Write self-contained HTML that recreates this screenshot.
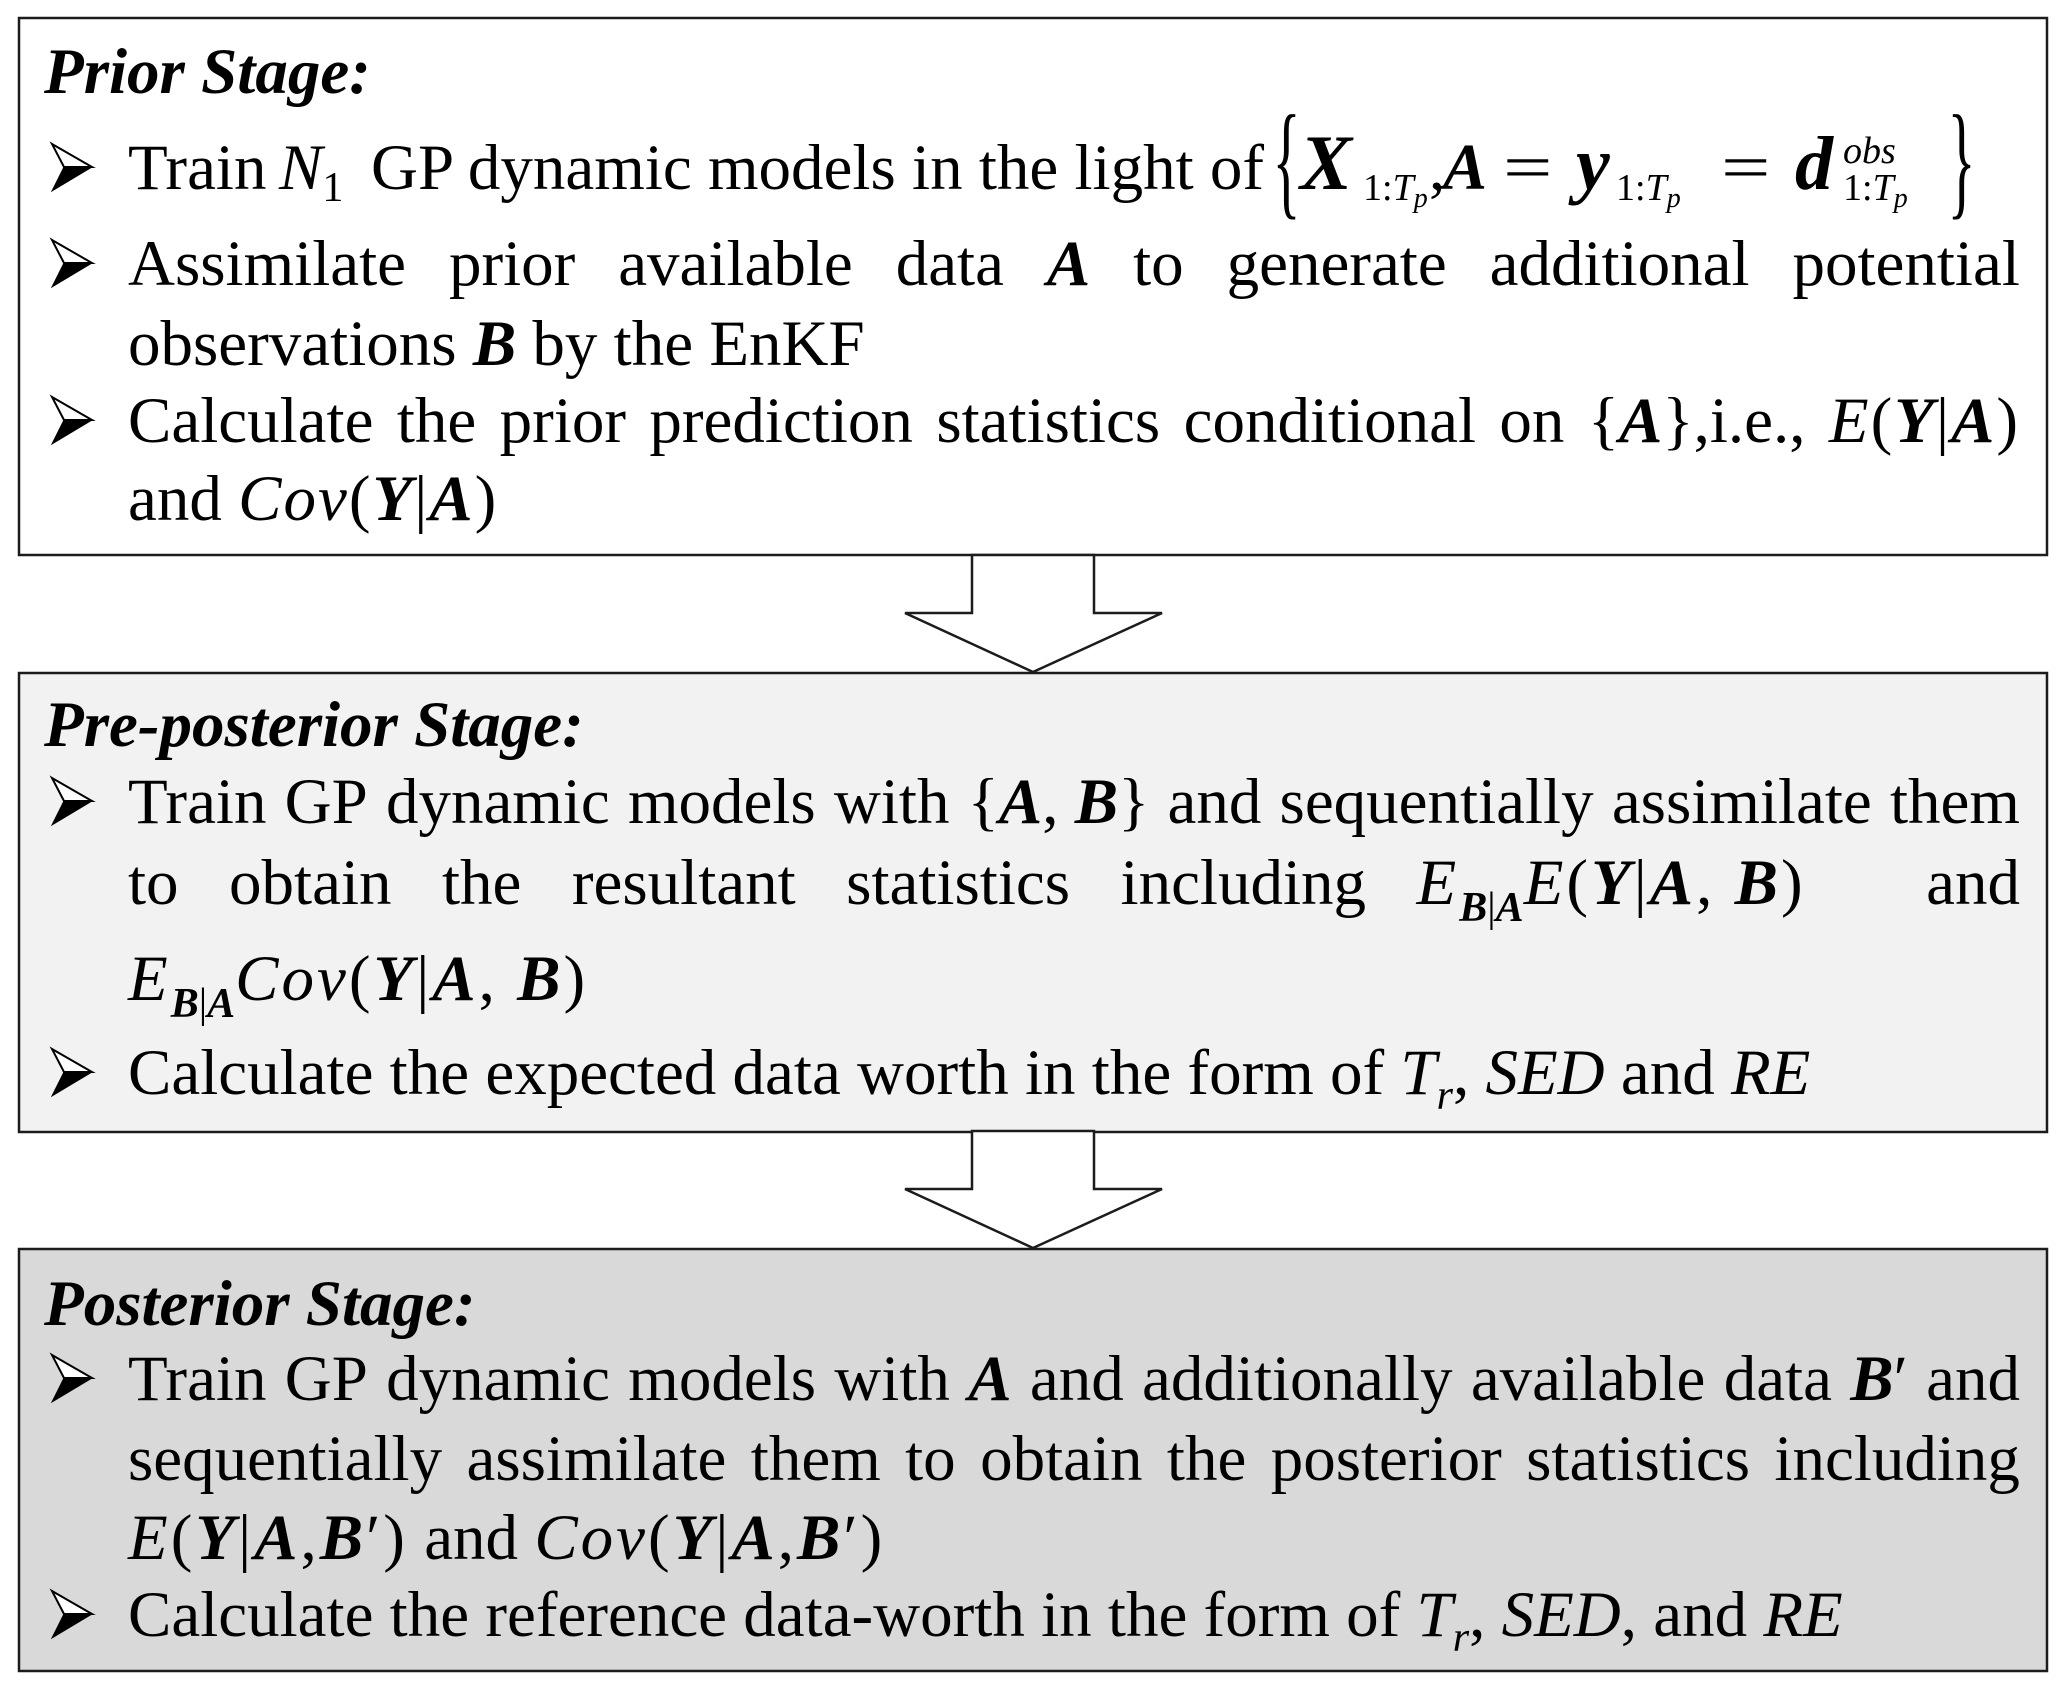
<!DOCTYPE html>
<html>
<head>
<meta charset="utf-8">
<style>
html,body{margin:0;padding:0;}
body{width:2067px;height:1690px;position:relative;background:#fff;overflow:hidden;
  font-family:"Liberation Serif","Times New Roman",serif;font-size:65px;color:#000;}
svg.bg{position:absolute;left:0;top:0;}
.l{position:absolute;left:128px;line-height:65px;white-space:nowrap;}
.a{position:absolute;line-height:65px;white-space:nowrap;}
.j{width:1892px;display:flex;justify-content:space-between;align-items:flex-start;}
.j>span{display:block;white-space:nowrap;}
.h{position:absolute;left:44px;font-weight:bold;font-style:italic;line-height:65px;white-space:nowrap;}
i{font-style:italic;}
b{font-weight:bold;font-style:italic;}
.m{letter-spacing:2px;}
.m3{letter-spacing:3px;}
.sb{font-size:42px;position:relative;top:15px;line-height:0;letter-spacing:0;}
.s1{font-size:38px;position:relative;top:11px;line-height:0;}
.sp{font-size:38px;position:relative;top:-26px;line-height:0;}
.ss{font-size:28px;position:relative;top:7px;line-height:0;}
.br{transform:scale(0.9,1.95);transform-origin:50% 50%;}
.eq{transform:scaleX(1.35);transform-origin:0 50%;}
.big{line-height:0;}
</style>
</head>
<body>
<svg class="bg" width="2067" height="1690" viewBox="0 0 2067 1690" xmlns="http://www.w3.org/2000/svg">
  <rect x="19" y="18" width="2028" height="537" fill="#ffffff" stroke="#1c1c1c" stroke-width="2.5"/>
  <rect x="19" y="673" width="2028" height="459" fill="#f2f2f2" stroke="#1c1c1c" stroke-width="2.5"/>
  <rect x="19" y="1249" width="2028" height="422" fill="#d9d9d9" stroke="#1c1c1c" stroke-width="2.5"/>
  <polygon points="972,555 1094,555 1094,613 1162,613 1033,672 905,613 972,613" fill="#ffffff" stroke="#1c1c1c" stroke-width="2.5" stroke-linejoin="miter"/>
  <polygon points="972,1131 1094,1131 1094,1189 1162,1189 1033,1248 905,1189 972,1189" fill="#ffffff" stroke="#1c1c1c" stroke-width="2.5" stroke-linejoin="miter"/>
  <g stroke-linejoin="miter">
    <polygon points="52,144 92,167 64,167" fill="#fff" stroke="#000" stroke-width="2"/>
    <polygon points="64,167 92,167 52,191" fill="#000" stroke="#000" stroke-width="1"/>

    <polygon points="52,240 92,263 64,263" fill="#fff" stroke="#000" stroke-width="2"/>
    <polygon points="64,263 92,263 52,287" fill="#000" stroke="#000" stroke-width="1"/>

    <polygon points="52,397 92,420 64,420" fill="#fff" stroke="#000" stroke-width="2"/>
    <polygon points="64,420 92,420 52,444" fill="#000" stroke="#000" stroke-width="1"/>

    <polygon points="52,778 92,801 64,801" fill="#fff" stroke="#000" stroke-width="2"/>
    <polygon points="64,801 92,801 52,825" fill="#000" stroke="#000" stroke-width="1"/>

    <polygon points="52,1049 92,1072 64,1072" fill="#fff" stroke="#000" stroke-width="2"/>
    <polygon points="64,1072 92,1072 52,1096" fill="#000" stroke="#000" stroke-width="1"/>

    <polygon points="52,1355 92,1378 64,1378" fill="#fff" stroke="#000" stroke-width="2"/>
    <polygon points="64,1378 92,1378 52,1402" fill="#000" stroke="#000" stroke-width="1"/>

    <polygon points="52,1591 92,1614 64,1614" fill="#fff" stroke="#000" stroke-width="2"/>
    <polygon points="64,1614 92,1614 52,1638" fill="#000" stroke="#000" stroke-width="1"/>
  </g>
</svg>

<!-- ============ Prior Stage ============ -->
<div class="h" style="top:39.6px;">Prior Stage:</div>

<!-- line 1 -->
<div class="a" style="left:128px;top:135.6px;">Train</div>
<div class="a" style="left:279px;top:135.6px;"><i>N</i><span class="sb" style="top:12px;">1</span></div>
<div class="a" style="left:371px;top:135.6px;">GP dynamic models in the light of</div>
<div class="a br" style="left:1271px;top:129.6px;">{</div>
<div class="a" style="left:1300px;top:135.6px;"><b class="big" style="font-size:78px;">X</b></div>
<div class="a" style="left:1363px;top:135.6px;"><span class="s1">1:<i>T</i><span class="ss"><i>p</i></span></span></div>
<div class="a" style="left:1429px;top:135.6px;">,</div>
<div class="a" style="left:1443px;top:135.6px;"><b class="big" style="font-size:66px;">A</b></div>
<div class="a eq" style="left:1503px;top:135.6px;">=</div>
<div class="a" style="left:1576px;top:135.6px;"><b class="big" style="font-size:76px;">y</b></div>
<div class="a" style="left:1616px;top:135.6px;"><span class="s1">1:<i>T</i><span class="ss"><i>p</i></span></span></div>
<div class="a eq" style="left:1721px;top:135.6px;">=</div>
<div class="a" style="left:1795px;top:135.6px;"><b class="big" style="font-size:76px;">d</b></div>
<div class="a" style="left:1843px;top:135.6px;"><span class="sp"><i>obs</i></span></div>
<div class="a" style="left:1843px;top:135.6px;"><span class="s1">1:<i>T</i><span class="ss"><i>p</i></span></span></div>
<div class="a br" style="left:1946px;top:129.6px;">}</div>

<!-- line 2 (justified) -->
<div class="l j" style="top:231.6px;">
  <span>Assimilate</span><span>prior</span><span>available</span><span>data</span><span><b>A</b></span><span>to</span><span>generate</span><span>additional</span><span>potential</span>
</div>
<!-- line 3 -->
<div class="l" style="top:311.6px;">observations <b>B</b> by the EnKF</div>
<!-- line 4 (justified) -->
<div class="l j" style="top:388.6px;">
  <span>Calculate</span><span>the</span><span>prior</span><span>prediction</span><span>statistics</span><span>conditional</span><span>on</span><span>{<b>A</b>},i.e.,</span><span class="m"><i>E</i>(<b>Y</b>|<b>A</b>)</span>
</div>
<!-- line 5 -->
<div class="l" style="top:466.6px;">and <span class="m"><i>Cov</i>(<b>Y</b>|<b>A</b>)</span></div>

<!-- ============ Pre-posterior Stage ============ -->
<div class="h" style="top:692.6px;">Pre-posterior Stage:</div>

<div class="l j" style="top:769.6px;">
  <span>Train</span><span>GP</span><span>dynamic</span><span>models</span><span>with</span><span>{<b>A</b>, <b>B</b>}</span><span>and</span><span>sequentially</span><span>assimilate</span><span>them</span>
</div>
<div class="l j" style="top:850.6px;">
  <span>to</span><span>obtain</span><span>the</span><span>resultant</span><span>statistics</span><span>including</span><span class="m3" style="margin-right:70px;"><i>E</i><span class="sb" style="top:17px;"><b>B</b>|<b>A</b></span><i>E</i>(<b>Y</b>|<b>A</b>, <b>B</b>)</span><span>and</span>
</div>
<div class="l m3" style="top:946.6px;"><i>E</i><span class="sb" style="top:17px;"><b>B</b>|<b>A</b></span><i>Cov</i>(<b>Y</b>|<b>A</b>, <b>B</b>)</div>
<div class="l" style="top:1040.6px;">Calculate the expected data worth in the form of <i>T</i><span class="sb"><i>r</i></span>, <i>SED</i> and <i>RE</i></div>

<!-- ============ Posterior Stage ============ -->
<div class="h" style="top:1271.6px;">Posterior Stage:</div>

<div class="l j" style="top:1346.6px;">
  <span>Train</span><span>GP</span><span>dynamic</span><span>models</span><span>with</span><span><b>A</b></span><span>and</span><span>additionally</span><span>available</span><span>data</span><span><b>B</b>′</span><span>and</span>
</div>
<div class="l j" style="top:1426.6px;">
  <span>sequentially</span><span>assimilate</span><span>them</span><span>to</span><span>obtain</span><span>the</span><span>posterior</span><span>statistics</span><span>including</span>
</div>
<div class="l" style="top:1505.6px;"><span class="m3"><i>E</i>(<b>Y</b>|<b>A</b>,<b>B</b>′)</span> and <span class="m3"><i>Cov</i>(<b>Y</b>|<b>A</b>,<b>B</b>′)</span></div>
<div class="l" style="top:1582.6px;">Calculate the reference data-worth in the form of <i>T</i><span class="sb"><i>r</i></span>, <i>SED</i>, and <i>RE</i></div>

</body>
</html>
